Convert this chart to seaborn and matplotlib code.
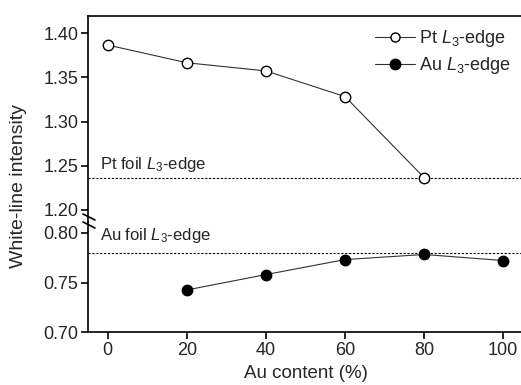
import matplotlib
matplotlib.use("Agg")
import matplotlib.pyplot as plt
import seaborn as sns
import pandas as pd
from matplotlib.lines import Line2D

au_content = [0, 20, 40, 60, 80, 100]
pt_x = [0, 20, 40, 60, 80]
pt_wl = [1.3868, 1.3667, 1.3574, 1.3283, 1.2363]
au_x = [20, 40, 60, 80, 100]
au_wl = [0.7426, 0.7581, 0.7732, 0.7783, 0.7722]
pt_foil = 1.236
au_foil = 0.780

sns.set_style("ticks")
plt.rcParams['font.family'] = ['Liberation Sans', 'DejaVu Sans']
plt.rcParams['mathtext.fontset'] = 'custom'
plt.rcParams['mathtext.it'] = 'Liberation Sans:italic'
plt.rcParams['mathtext.rm'] = 'Liberation Sans'

fig = plt.figure(figsize=(5.21, 3.85), dpi=100)
left = 88 / 521
right = 523 / 521
ax_top = fig.add_axes([left, 0.4234, right - left, 0.959 - 0.4234])
ax_bot = fig.add_axes([left, 0.1369, right - left, 0.4234 - 0.1369], sharex=ax_top)

df_pt = pd.DataFrame({"x": pt_x, "y": pt_wl})
df_au = pd.DataFrame({"x": au_x, "y": au_wl})

lw = 0.8
ms = 7.5
sns.lineplot(data=df_pt, x="x", y="y", ax=ax_top, color="#333333", lw=lw,
             marker="o", markersize=ms, markerfacecolor="white",
             markeredgecolor="black", markeredgewidth=1.0, zorder=3)
sns.lineplot(data=df_au, x="x", y="y", ax=ax_bot, color="#333333", lw=lw,
             marker="o", markersize=ms, markerfacecolor="black",
             markeredgecolor="black", markeredgewidth=1.0, zorder=3)

ax_top.axhline(pt_foil, color="black", ls=(0, (2, 1.5)), lw=0.8, zorder=1)
ax_bot.axhline(au_foil, color="black", ls=(0, (2, 1.5)), lw=0.8, zorder=1)

ax_top.set_ylim(1.186, 1.42)
ax_bot.set_ylim(0.70, 0.811)
ax_top.set_xlim(-5, 105)
ax_top.set_yticks([1.20, 1.25, 1.30, 1.35, 1.40])
ax_bot.set_yticks([0.70, 0.75, 0.80])
ax_bot.set_xticks(au_content)
ax_top.yaxis.set_major_formatter(matplotlib.ticker.FormatStrFormatter('%.2f'))
ax_bot.yaxis.set_major_formatter(matplotlib.ticker.FormatStrFormatter('%.2f'))

for ax in (ax_top, ax_bot):
    ax.set_xlabel("")
    ax.set_ylabel("")
    ax.spines['right'].set_visible(False)
    ax.tick_params(axis='both', direction='out', length=5, width=1.2,
                   labelsize=13, color='black', pad=2)
    for s in ax.spines.values():
        s.set_linewidth(1.2)
        s.set_color('black')
    ax.patch.set_alpha(0)

ax_top.spines['bottom'].set_visible(False)
ax_top.tick_params(axis='x', bottom=False, labelbottom=False)
ax_bot.spines['top'].set_visible(False)

ax_bot.set_xlabel("Au content (%)", fontsize=13.5, labelpad=4)
fig.text(0.0355, 0.518, "White-line intensity", rotation=90, fontsize=14,
         ha='center', va='center')

ax_top.text(-1.9, pt_foil + 0.005, r"Pt foil $L_3$-edge", fontsize=12, va='bottom')
ax_bot.text(-1.9, 0.797, r"Au foil $L_3$-edge", fontsize=12, va='center')

# break marks
for y0 in (217, 225):
    fig.add_artist(plt.Line2D([83 / 521, 95 / 521],
                              [(385 - y0 + 3) / 385, (385 - y0 - 3) / 385],
                              color='black', lw=1.2))

handles = [
    Line2D([], [], color="#333333", lw=lw, marker="o", markersize=6.5,
           markerfacecolor="white", markeredgecolor="black"),
    Line2D([], [], color="#333333", lw=lw, marker="o", markersize=7.5,
           markerfacecolor="black", markeredgecolor="black"),
]
ax_top.legend(handles, [r"Pt $L_3$-edge", r"Au $L_3$-edge"], loc='upper right',
              bbox_to_anchor=(1.01, 1.02), frameon=False, fontsize=13,
              handlelength=2.2, handletextpad=0.25, labelspacing=0.35)

fig.savefig("out.png", dpi=100)
